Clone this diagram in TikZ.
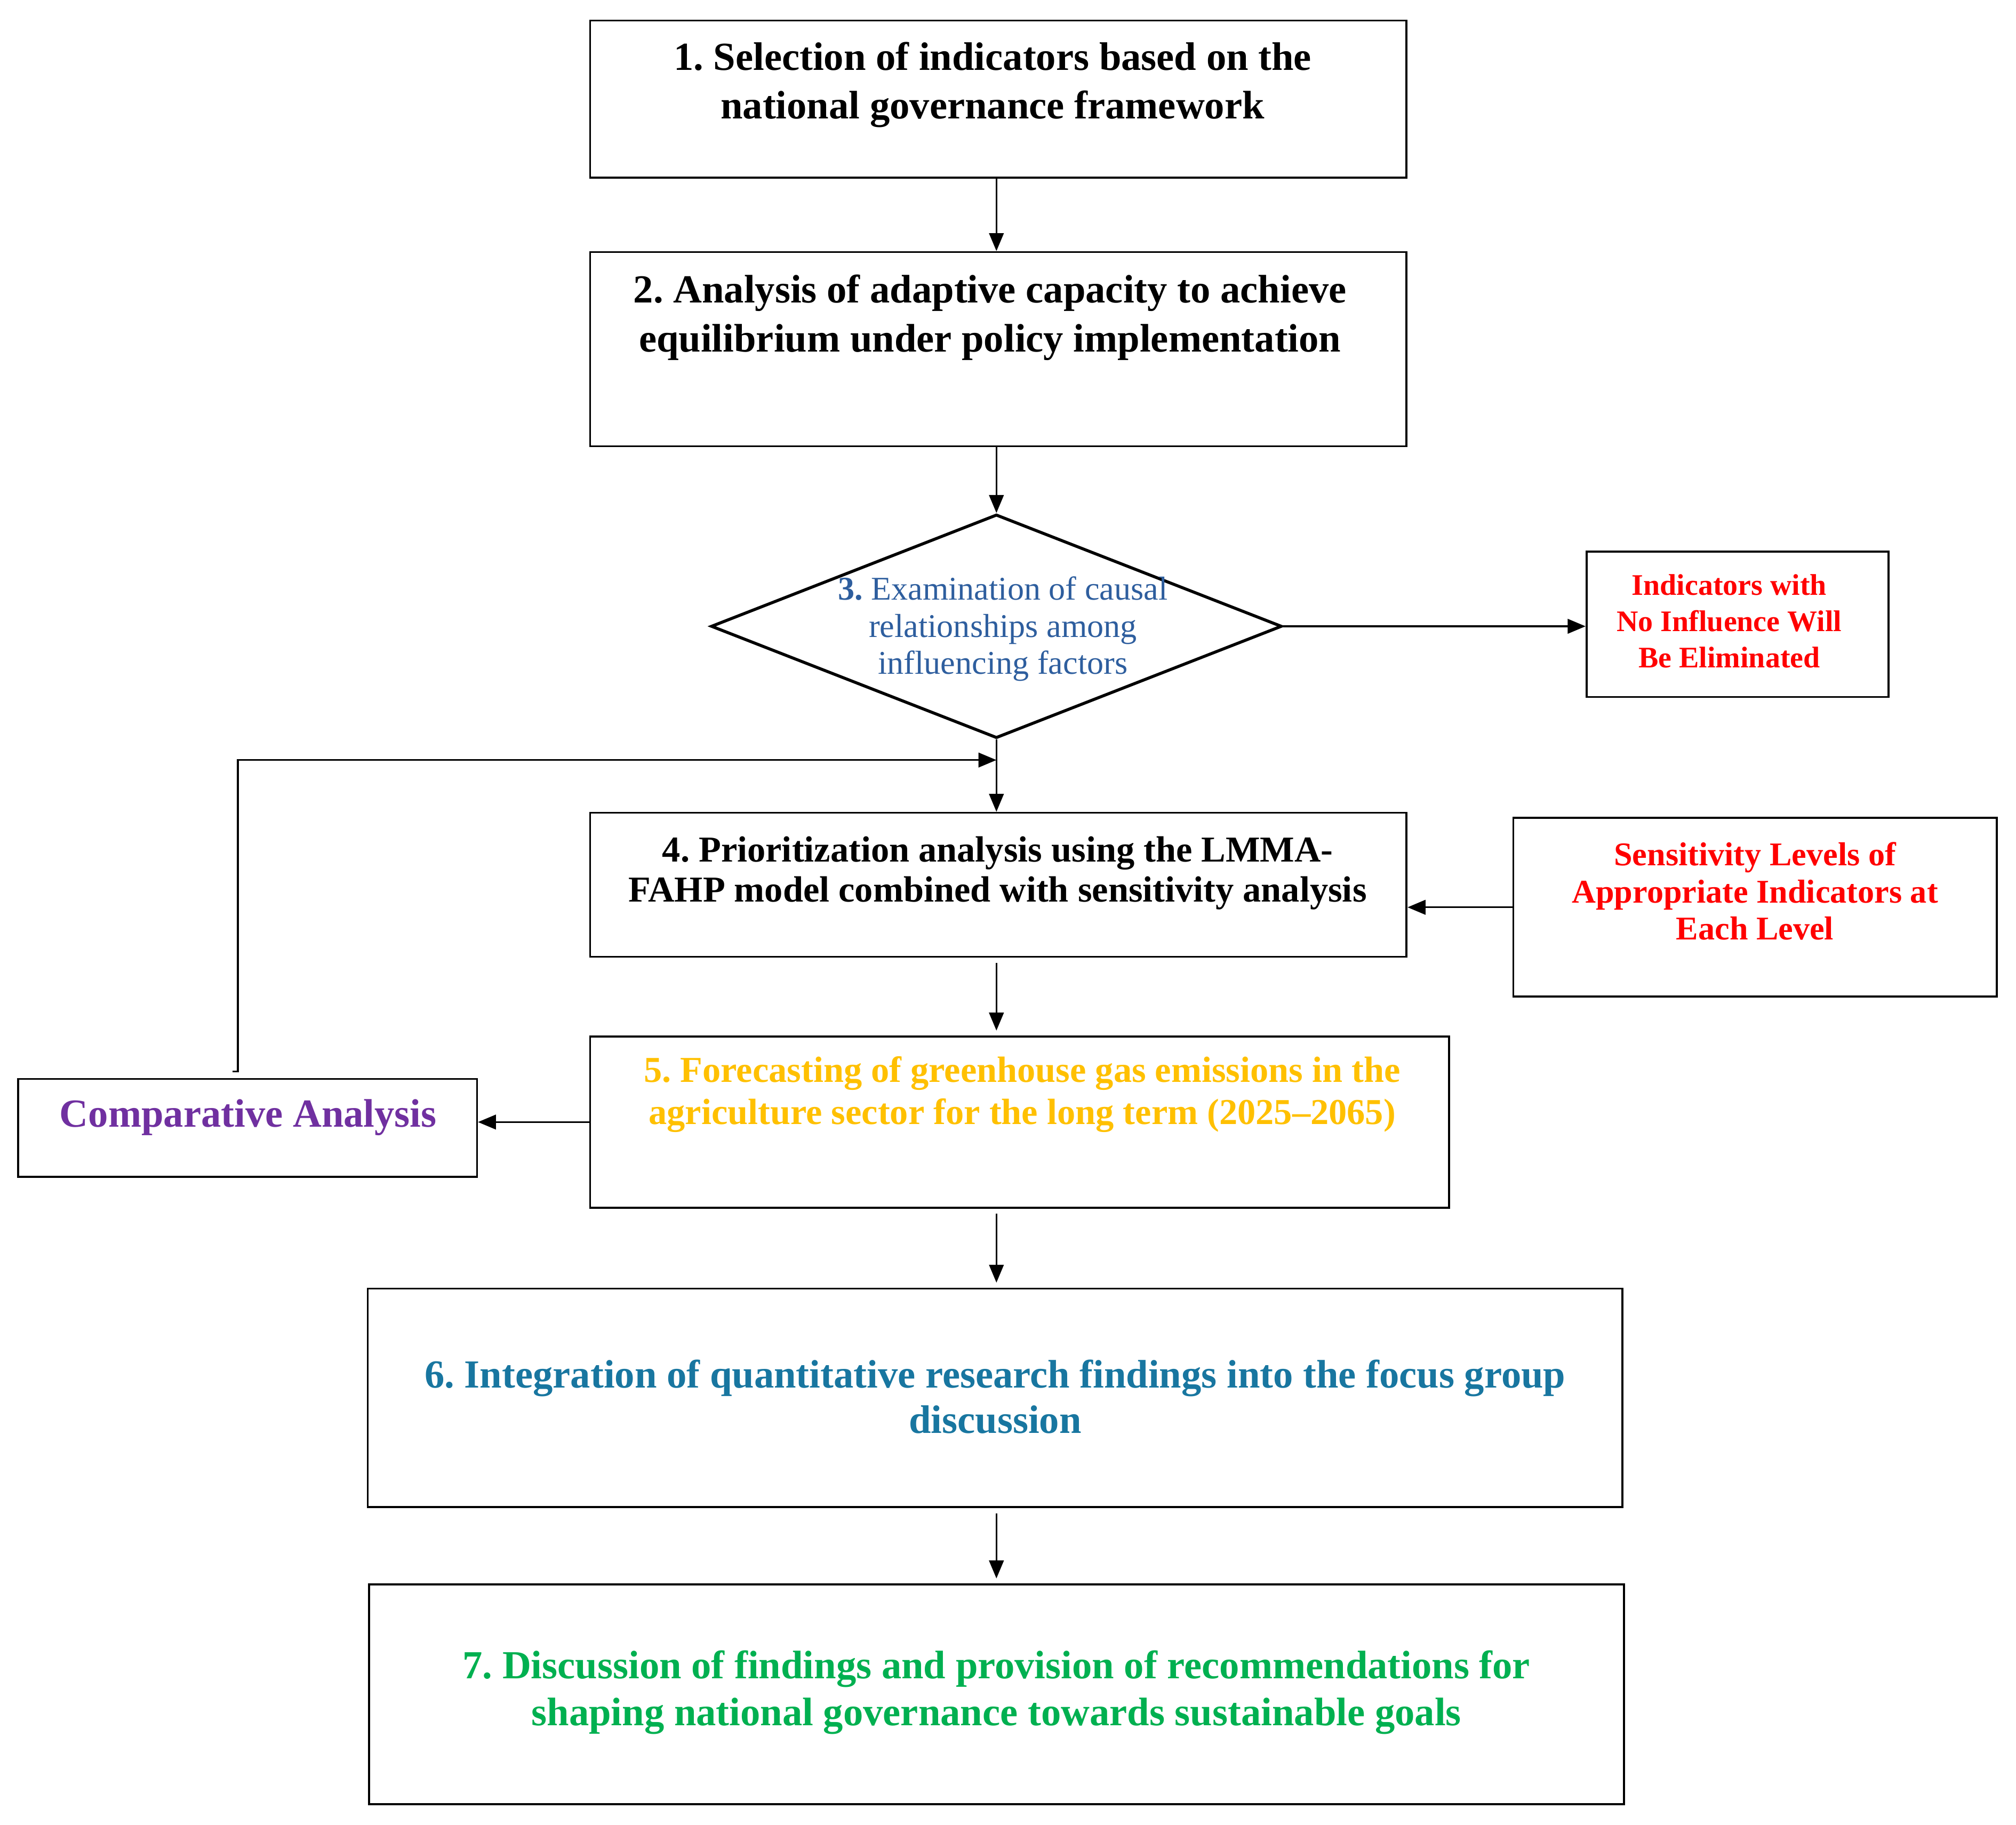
\documentclass[tikz,border=0pt]{standalone}
\usepackage{fontspec}
\setmainfont{Liberation Serif}
\usetikzlibrary{arrows.meta,shapes.geometric,fit}
\definecolor{causalblue}{RGB}{46,94,158}
\definecolor{elimred}{RGB}{255,0,0}
\definecolor{comppurple}{RGB}{112,48,160}
\definecolor{foregold}{RGB}{255,192,0}
\definecolor{integteal}{RGB}{24,118,160}
\definecolor{discgreen}{RGB}{0,176,80}
\frenchspacing

\begin{document}
\begin{tikzpicture}[x=0.01363cm, y=-0.01363cm,
		box/.style={draw, line width=0.6pt, inner sep=0pt},
		txt/.style 2 args={align=center, inner sep=0pt, font=\fontsize{#1}{#2}\selectfont\bfseries},
		gap/.style={shorten <=1.5pt, shorten >=1.5pt},
		>={Triangle[length=5.4pt,width=4.4pt]}]
		\useasboundingbox (0,0) rectangle (1568,1419);
		% boxes
		\node[box, fit={(459,16) (1094,138)}] (sel) {};
		\node[box, fit={(459,196) (1094,347)}] (ana) {};
		\node[draw, diamond, line width=0.9pt, inner sep=0pt, minimum width=6.05cm, minimum height=2.37cm] (exa) at (775,487) {};
		\node[box, fit={(1234,429) (1469,542)}] (elim) {};
		\node[box, fit={(459,632) (1094,744)}] (prio) {};
		\node[box, fit={(1177,636) (1553,775)}] (sens) {};
		\node[box, fit={(459,806) (1127,939)}] (fore) {};
		\node[box, fit={(14,839) (371,915)}] (comp) {};
		\node[box, fit={(286,1002) (1262,1172)}] (integ) {};
		\node[box, fit={(287,1232) (1263,1403)}] (disc) {};
		% texts
		\node[txt={12}{14.7}] (sel-t) at (772,66) {1. Selection of indicators based on the\\ national governance framework};
		\node[txt={12}{14.7}] (ana-t) at (770,247) {2. Analysis of adaptive capacity to achieve\\ equilibrium under policy implementation};
		\node[align=center, inner sep=0pt, text=causalblue, font=\fontsize{10}{11.2}\selectfont] (exa-t) at (780,489) {\textbf{3.} Examination of causal\\ relationships among\\ influencing factors};
		\node[txt={9}{11}, text=elimred] (elim-t) at (1345,483) {Indicators with\\ No Influence Will\\ Be Eliminated};
		\node[txt={11}{12}] (prio-t) at (776,679) {4. Prioritization analysis using the LMMA-\\ FAHP model combined with sensitivity analysis};
		\node[txt={10}{11.2}, text=elimred] (sens-t) at (1365,693) {Sensitivity Levels of\\ Appropriate Indicators at\\ Each Level};
		\node[txt={11}{12.8}, text=foregold] (fore-t) at (795,851) {5. Forecasting of greenhouse gas emissions in the\\ agriculture sector for the long term (2025--2065)};
		\node[txt={12}{14}, text=comppurple] (comp-t) at (193,869) {Comparative Analysis};
		\node[txt={12}{13.6}, text=integteal] (integ-t) at (774,1086) {6. Integration of quantitative research findings into the focus group\\ discussion};
		\node[txt={12}{14}, text=discgreen] (disc-t) at (775,1316) {7. Discussion of findings and provision of recommendations for\\ shaping national governance towards sustainable goals};
		% connectors
		\coordinate (fbt) at (181,833);
		\coordinate (fb) at (185,833);
		\coordinate (jn) at (775,591);
		\path[->, line width=0.5pt]
		(exa.north |- sel.south) edge (exa.north |- ana.north)
		(exa.north |- ana.south) edge (exa.north)
		(exa.east) edge (exa.east -| elim.west)
		(exa.south) edge (exa.south |- prio.north)
		(sens.west) edge (sens.west -| prio.east)
		(fore.west) edge (fore.west -| comp.east)
		;
		\path[->, line width=0.5pt, gap]
		(exa.south |- prio.south) edge (exa.south |- fore.north)
		(exa.south |- fore.south) edge (exa.south |- integ.north)
		(exa.south |- integ.south) edge (exa.south |- disc.north)
		;
		\draw[->, line width=0.5pt] (fbt) -- (fb) |- (jn);
	\end{tikzpicture}
\end{document}
